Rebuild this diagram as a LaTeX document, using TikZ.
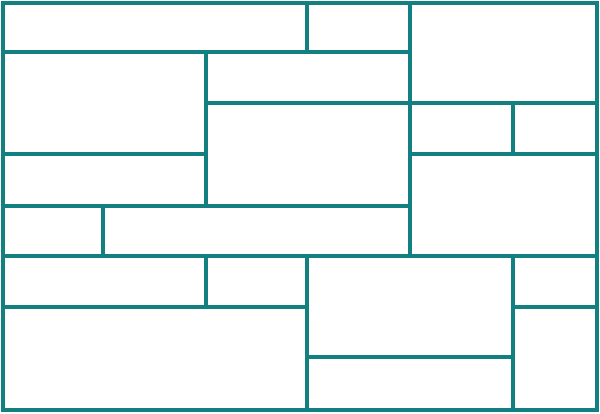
\documentclass[tikz,border=0pt]{standalone}
\begin{document}
\begin{tikzpicture}[x=1pt,y=-1pt]
\definecolor{teal1}{HTML}{128080}
\tikzset{wall/.style={draw=teal1,line width=3.4pt,line cap=rect}}
\useasboundingbox (0,0) rectangle (600,413);
\draw[wall] (3,3) rectangle (597,410);
\draw[wall] (3,52) -- (410,52);
\draw[wall] (307,3) -- (307,52);
\draw[wall] (410,3) -- (410,256);
\draw[wall] (206,52) -- (206,206);
\draw[wall] (206,103) -- (597,103);
\draw[wall] (513,103) -- (513,154);
\draw[wall] (3,154) -- (206,154);
\draw[wall] (410,154) -- (597,154);
\draw[wall] (3,206) -- (410,206);
\draw[wall] (103,206) -- (103,256);
\draw[wall] (3,256) -- (597,256);
\draw[wall] (206,256) -- (206,307);
\draw[wall] (307,256) -- (307,410);
\draw[wall] (3,307) -- (307,307);
\draw[wall] (513,307) -- (597,307);
\draw[wall] (513,256) -- (513,410);
\draw[wall] (307,357) -- (513,357);
\end{tikzpicture}
\end{document}
